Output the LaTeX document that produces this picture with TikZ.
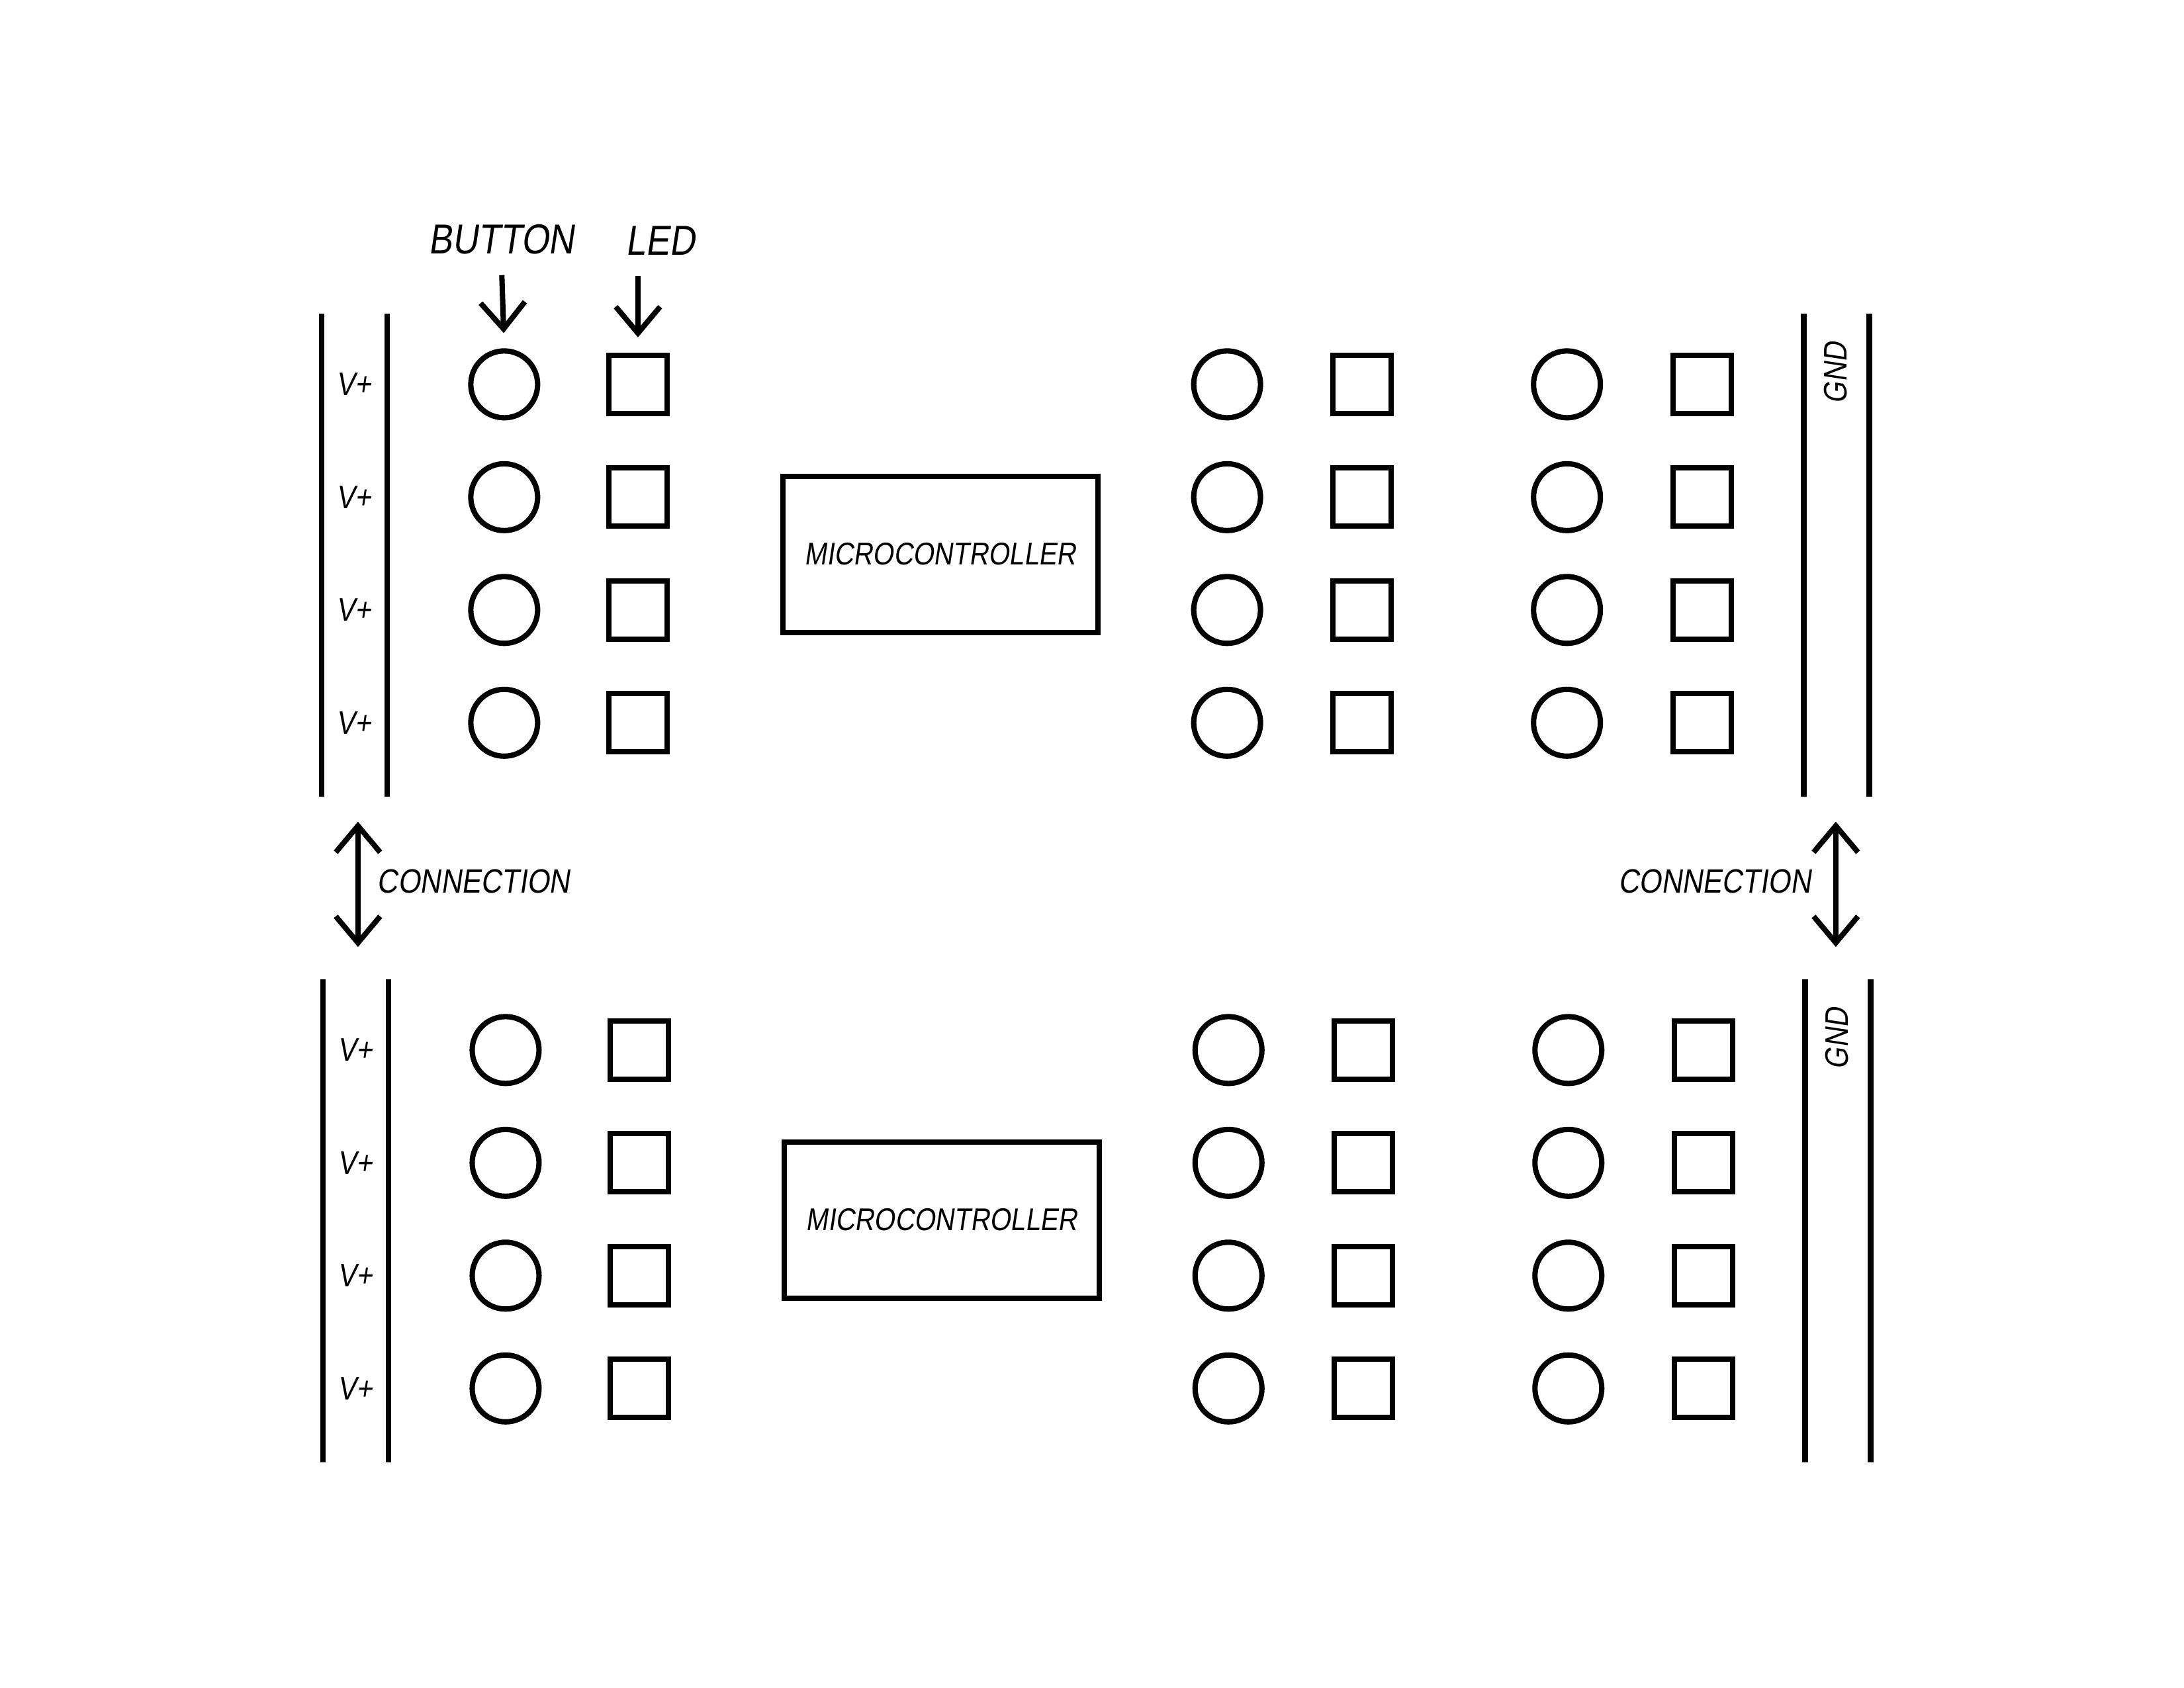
\documentclass[tikz,border=0pt]{standalone}
\usepackage{fontspec}
\newfontfamily\handfont[FakeSlant=0.15,FakeStretch=0.85]{Liberation Sans}
\usetikzlibrary{arrows.meta}
\tikzset{
    every node/.style={font=\handfont\fontsize{14}{16}\selectfont},
    button/.style={draw, circle, line width=2.3pt, minimum size=10.1mm, inner sep=0pt},
    led/.style={draw, rectangle, line width=2.3pt, minimum size=8.8mm, inner sep=0pt},
    mcu/.style={draw, rectangle, line width=2.3pt, minimum width=47.6mm, minimum height=23.6mm,
        font=\handfont\fontsize{13.5}{15}\selectfont},
    title/.style={font=\handfont\fontsize{18}{20}\selectfont},
    rail/.style={line width=2.4pt},
    pointer/.style={line width=2.3pt, -{Straight Barb[length=4mm,width=6.7mm]}},
    link/.style={line width=2.3pt, {Straight Barb[length=4mm,width=6.7mm]}-{Straight Barb[length=4mm,width=6.7mm]}}
}

\begin{document}
\begin{tikzpicture}[x=0.21046mm, y=-0.21046mm]
    \useasboundingbox (0,0) rectangle (1568,1212);

    % two identical boards
    \foreach \s/\dy/\dx in {top/0/0, bot/478/1} {
        \draw[rail] (231+\dx,225+\dy) -- (231+\dx,572+\dy);
        \draw[rail] (278+\dx,225+\dy) -- (278+\dx,572+\dy);
        \draw[rail] (1295+\dx,225+\dy) -- (1295+\dx,572+\dy);
        \draw[rail] (1342+\dx,225+\dy) -- (1342+\dx,572+\dy);
        \node[rotate=90] (gnd-\s) at (1318+\dx,268+\dy) {GND};
        \node[mcu] (mcu-\s) at (675+\dx,398+\dy) {MICROCONTROLLER};
        \foreach \r/\y in {1/276, 2/357, 3/438, 4/519} {
            \node (vplus-\s\r) at (254+\dx,\y+\dy) {V+};
            \node[button] (btnA-\s\r) at (362+\dx,\y+\dy) {};
            \node[led] (ledA-\s\r) at (458+\dx,\y+\dy) {};
            \node[button] (btnB-\s\r) at (881+\dx,\y+\dy) {};
            \node[led] (ledB-\s\r) at (978+\dx,\y+\dy) {};
            \node[button] (btnC-\s\r) at (1125+\dx,\y+\dy) {};
            \node[led] (ledC-\s\r) at (1222+\dx,\y+\dy) {};
        }
    }

    % legend
    \node[title] (lblBtn) at (360,172) {BUTTON};
    \node[title] (lblLed) at (474,173) {LED};
    \draw[pointer, shorten <=1.9mm, shorten >=2.3mm] (lblBtn.south) -- (btnA-top1.north);
    \draw[pointer, shorten <=1.9mm, shorten >=2.3mm] (lblLed.south -| ledA-top1.north) -- (ledA-top1.north);

    % connections between the boards
    \coordinate (linkL-top) at (257,590);
    \coordinate (linkL-bot) at (257,680);
    \coordinate (linkR-top) at (1318,590);
    \coordinate (linkR-bot) at (1318,680);
    \draw[link] (linkL-top) -- (linkL-bot);
    \draw[link] (linkR-top) -- (linkR-bot);
    \node[font=\handfont\fontsize{14.5}{16}\selectfont] (connL) at (340,633) {CONNECTION};
    \node[font=\handfont\fontsize{14.5}{16}\selectfont] (connR) at (1231,633) {CONNECTION};
\end{tikzpicture}
\end{document}
